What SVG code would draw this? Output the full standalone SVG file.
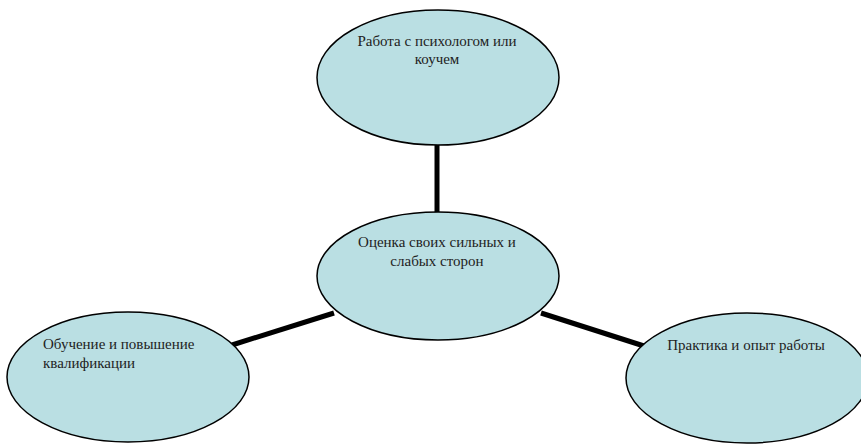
<svg xmlns="http://www.w3.org/2000/svg" width="861" height="445" viewBox="0 0 861 445">
<style>
.node ellipse{fill:#badfe3;stroke:#000;stroke-width:1.5}
.node text{font-family:"Liberation Serif","Times New Roman",serif;font-size:15px;fill:#222}
.c{text-anchor:middle}
#connectors line{stroke:#000;stroke-width:5;stroke-linecap:butt}
</style>
<rect width="861" height="445" fill="#fff"/>
<g id="connectors">
<line x1="437" y1="144" x2="437" y2="214"/>
<line x1="232" y1="345" x2="334" y2="313"/>
<line x1="541" y1="313" x2="644" y2="346"/>
</g>
<g id="node-top" class="node">
<ellipse cx="438" cy="77.5" rx="121" ry="67.5"/>
<text class="c" x="437" y="46">Работа с психологом или</text>
<text class="c" x="437" y="64">коучем</text>
</g>
<g id="node-center" class="node">
<ellipse cx="438" cy="276" rx="121" ry="64"/>
<text class="c" x="437" y="247">Оценка своих сильных и</text>
<text class="c" x="437" y="266">слабых сторон</text>
</g>
<g id="node-left" class="node">
<ellipse cx="128" cy="377" rx="121" ry="65"/>
<text x="43" y="349">Обучение и повышение</text>
<text x="43" y="368">квалификации</text>
</g>
<g id="node-right" class="node">
<ellipse cx="747" cy="378" rx="121" ry="65"/>
<text class="c" x="746" y="350">Практика и опыт работы</text>
</g>
</svg>
